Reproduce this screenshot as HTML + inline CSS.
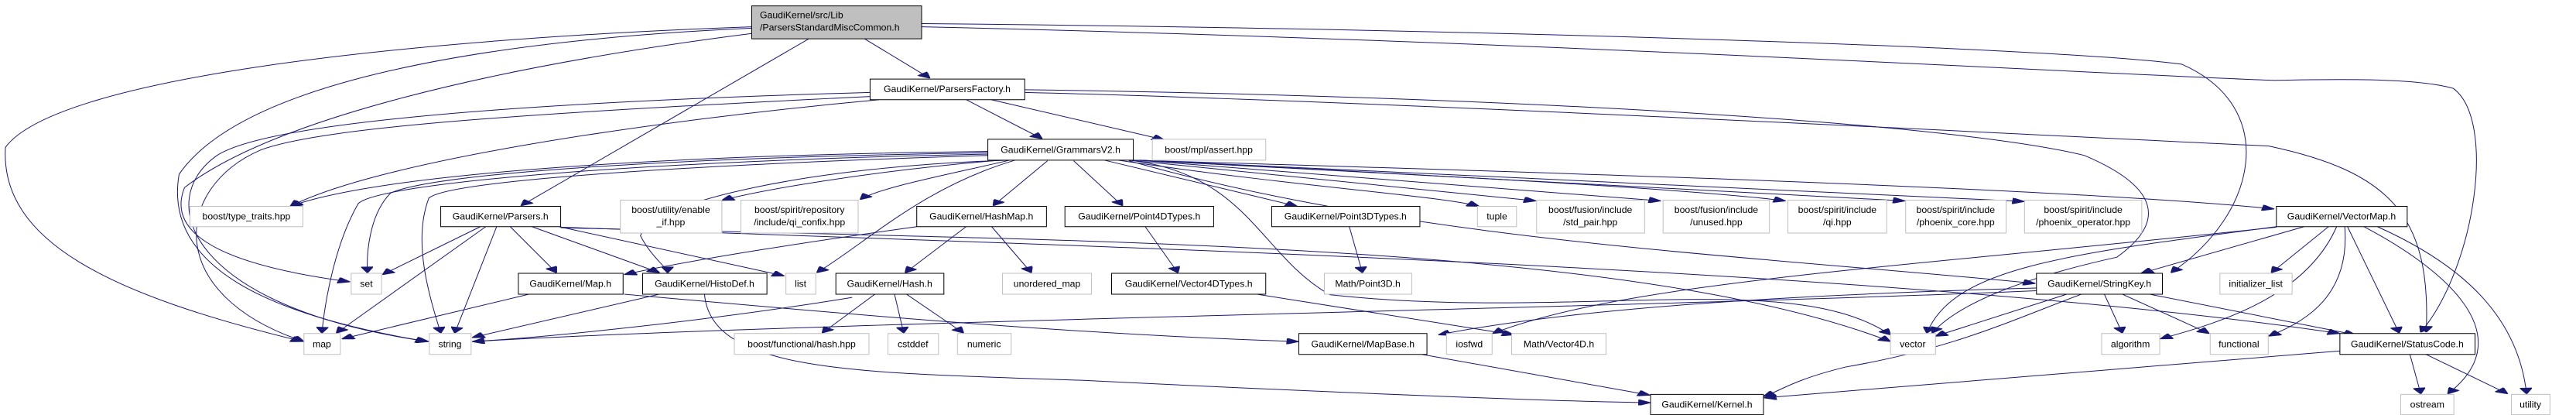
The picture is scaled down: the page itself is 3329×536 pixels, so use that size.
<!DOCTYPE html>
<html><head><meta charset="utf-8"><style>
html,body{margin:0;padding:0;background:#fff;}
svg{display:block;}
text{font-family:"Liberation Sans",Helvetica,Arial,sans-serif;font-size:17.5px;fill:#000;transform-box:fill-box;transform-origin:center;transform:scaleY(2.03);}
rect{vector-effect:non-scaling-stroke;stroke-width:1;}
rect.b{fill:#fff;stroke:#000;}
rect.g{fill:#fff;stroke:#bfbfbf;}
path{fill:none;stroke:#191970;stroke-width:1;vector-effect:non-scaling-stroke;marker-end:url(#a);}
</style></head><body>
<svg width="3329" height="536" viewBox="0 0 4746 1549" preserveAspectRatio="none" xmlns="http://www.w3.org/2000/svg">
<defs><marker id="a" viewBox="0 0 10 10" refX="10" refY="5" markerWidth="26" markerHeight="22" markerUnits="userSpaceOnUse" orient="auto"><path d="M0,0 L10,5 L0,10 z" style="fill:#191970;stroke:#191970;marker-end:none"/></marker></defs>
<rect width="4746" height="1549" fill="#fff"/>
<g>
<!-- root edges -->
<path d="M1385,100 C700,150 100,300 10,550 C0,900 200,1100 558,1275"/>
<path d="M1385,105 C900,150 450,300 330,650 C300,1000 500,1180 788,1275"/>
<path d="M1385,125 C900,250 500,450 340,700 C300,900 450,1000 645,1052"/>
<path d="M1490,145 L960,768"/>
<path d="M1593,145 L1713,292"/>
<path d="M1698,88 C2800,110 3800,180 4020,240 C4200,400 4160,800 4000,1018"/>
<path d="M1698,100 C2800,150 3900,280 4190,300 C4300,295 4450,290 4520,330 C4600,450 4560,1000 4460,1240"/>
<!-- ParsersFactory -->
<path d="M1780,372 L1920,518"/>
<path d="M1826,372 L2145,522"/>
<path d="M1620,372 C1200,450 700,600 535,770"/>
<path d="M1603,345 C1000,380 500,450 400,580 C280,750 350,1150 790,1275"/>
<path d="M1603,360 C1000,420 600,470 480,560 C320,700 300,1100 560,1275"/>
<path d="M1888,345 C2600,380 3900,520 4180,545 C4400,640 4480,800 4470,1240"/>
<path d="M1888,335 C2800,360 3600,460 3840,580 C3980,700 3990,830 3900,960 C3700,1050 3600,1150 3560,1243"/>
<!-- GrammarsV2 -->
<path d="M1820,565 C1200,580 700,650 535,770"/>
<path d="M1820,570 C1200,590 800,650 720,720 C680,800 675,950 677,1018"/>
<path d="M1820,575 C1200,600 700,680 660,760 C620,900 600,1100 593,1243"/>
<path d="M1820,580 C1200,620 820,680 790,740 C760,900 790,1100 812,1243"/>
<path d="M1830,600 C1600,640 1400,710 1330,748"/>
<path d="M1860,598 C1750,650 1620,700 1585,745"/>
<path d="M1870,598 C1700,700 1600,900 1505,1018"/>
<path d="M1930,600 L1830,768"/>
<path d="M1978,600 L2068,768"/>
<path d="M2035,598 L2390,770"/>
<path d="M2060,598 C2400,700 2650,730 2725,770"/>
<path d="M2090,600 L2830,750"/>
<path d="M2095,598 L3060,750"/>
<path d="M2100,598 C2500,640 3100,700 3290,750"/>
<path d="M2100,598 L3510,750"/>
<path d="M2100,598 L3730,752"/>
<path d="M2088,598 C2800,640 3800,700 4190,780"/>
<path d="M2080,600 C2600,900 3200,950 3750,1058"/>
<path d="M1860,598 C1500,620 1200,750 1180,880 C1200,960 1230,1000 1230,1018"/>
<path d="M2080,598 C2300,650 2320,950 2450,1100 C2900,1200 3300,1000 3483,1250"/>
<!-- Parsers.h -->
<path d="M885,846 L705,1025"/>
<path d="M895,846 L620,1243"/>
<path d="M915,846 L838,1243"/>
<path d="M940,846 L1025,1018"/>
<path d="M980,846 L1215,1018"/>
<path d="M1030,846 L1445,1030"/>
<path d="M1033,850 C2000,900 3000,900 3483,1275"/>
<path d="M1033,848 C2000,920 3500,1000 4311,1245"/>
<!-- HashMap / Hash -->
<path d="M1689,846 C1500,900 1300,960 1150,1025"/>
<path d="M1780,846 L1668,1018"/>
<path d="M1827,846 L1900,1018"/>
<path d="M1612,1098 L1515,1243"/>
<path d="M1648,1098 L1665,1243"/>
<path d="M1670,1098 L1775,1243"/>
<path d="M1570,1110 C1300,1200 1000,1260 870,1275"/>
<!-- Map / HistoDef -->
<path d="M975,1098 L630,1265"/>
<path d="M1150,1098 C1600,1180 2000,1250 2393,1275"/>
<path d="M1215,1098 L870,1260"/>
<path d="M1298,1098 C1310,1400 1600,1390 2000,1420 C2500,1470 2900,1500 3041,1503"/>
<path d="M2110,846 L2170,1018"/>
<path d="M2315,1098 L2790,1250"/>
<path d="M2486,846 L2510,1018"/>
<path d="M2620,1323 L3040,1475"/>
<!-- VectorMap -->
<path d="M4194,846 C3800,950 3600,1000 3550,1243"/>
<path d="M4245,846 L3945,1020"/>
<path d="M4290,846 L4185,1018"/>
<path d="M4305,846 C4250,1100 4100,1200 3980,1265"/>
<path d="M4320,846 C4330,1100 4250,1200 4180,1255"/>
<path d="M4325,846 L4420,1243"/>
<path d="M4355,846 C4500,1000 4650,1250 4510,1470"/>
<path d="M4380,846 C4550,1000 4640,1200 4655,1470"/>
<path d="M4194,848 C3500,1000 3000,1050 2750,1245"/>
<!-- StringKey -->
<path d="M3808,1098 L3566,1255"/>
<path d="M3877,1098 L3910,1243"/>
<path d="M3910,1098 L4070,1245"/>
<path d="M3960,1098 L4340,1250"/>
<path d="M3835,1098 C3700,1200 3600,1300 3400,1370 C3300,1420 3280,1460 3249,1480"/>
<path d="M3752,1085 C3000,1150 1500,1200 870,1275"/>
<path d="M3752,1075 C3300,1100 2900,1150 2650,1250"/>
<!-- StatusCode -->
<path d="M4311,1310 L3250,1485"/>
<path d="M4440,1323 L4460,1470"/>
<path d="M4470,1323 L4620,1470"/>
</g>
<g>
<rect x="1385" y="22" width="313" height="123" fill="#bfbfbf" stroke="#000" style="vector-effect:non-scaling-stroke"/>
<text x="1400" y="57" dominant-baseline="central">GaudiKernel/src/Lib</text>
<text x="1400" y="103" dominant-baseline="central">/ParsersStandardMiscCommon.h</text>
</g>
<g text-anchor="middle" dominant-baseline="central">
<rect class="g" x="350" y="770" width="208" height="76"/><text x="454" y="808">boost/type_traits.hpp</text>
<rect class="b" x="812" y="770" width="221" height="76"/><text x="922" y="808">GaudiKernel/Parsers.h</text>
<rect class="g" x="1143" y="747" width="187" height="123"/><text x="1236" y="783">boost/utility/enable</text><text x="1236" y="829">_if.hpp</text>
<rect class="g" x="1365" y="747" width="216" height="123"/><text x="1473" y="783">boost/spirit/repository</text><text x="1473" y="829">/include/qi_confix.hpp</text>
<rect class="g" x="647" y="1020" width="56" height="78"/><text x="675" y="1059">set</text>
<rect class="b" x="955" y="1020" width="193" height="78"/><text x="1051" y="1059">GaudiKernel/Map.h</text>
<rect class="b" x="1184" y="1020" width="229" height="78"/><text x="1298" y="1059">GaudiKernel/HistoDef.h</text>
<rect class="g" x="1448" y="1020" width="55" height="78"/><text x="1475" y="1059">list</text>
<rect class="b" x="1540" y="1020" width="199" height="78"/><text x="1639" y="1059">GaudiKernel/Hash.h</text>
<rect class="g" x="560" y="1245" width="67" height="78"/><text x="593" y="1284">map</text>
<rect class="g" x="791" y="1245" width="77" height="78"/><text x="829" y="1284">string</text>
<rect class="g" x="1353" y="1245" width="248" height="78"/><text x="1477" y="1284">boost/functional/hash.hpp</text>
<rect class="b" x="1603" y="295" width="285" height="77"/><text x="1745" y="333">GaudiKernel/ParsersFactory.h</text>
<rect class="b" x="1820" y="520" width="268" height="78"/><text x="1954" y="559">GaudiKernel/GrammarsV2.h</text>
<rect class="g" x="2123" y="520" width="209" height="78"/><text x="2227" y="559">boost/mpl/assert.hpp</text>
<rect class="b" x="1689" y="770" width="239" height="76"/><text x="1808" y="808">GaudiKernel/HashMap.h</text>
<rect class="b" x="1962" y="770" width="274" height="76"/><text x="2099" y="808">GaudiKernel/Point4DTypes.h</text>
<rect class="b" x="2343" y="770" width="273" height="76"/><text x="2479" y="808">GaudiKernel/Point3DTypes.h</text>
<rect class="g" x="2722" y="770" width="72" height="76"/><text x="2758" y="808">tuple</text>
<rect class="g" x="2831" y="747" width="199" height="123"/><text x="2930" y="783">boost/fusion/include</text><text x="2930" y="829">/std_pair.hpp</text>
<rect class="g" x="3064" y="747" width="196" height="123"/><text x="3162" y="783">boost/fusion/include</text><text x="3162" y="829">/unused.hpp</text>
<rect class="g" x="1847" y="1020" width="164" height="78"/><text x="1929" y="1059">unordered_map</text>
<rect class="b" x="2048" y="1020" width="284" height="78"/><text x="2190" y="1059">GaudiKernel/Vector4DTypes.h</text>
<rect class="g" x="2440" y="1020" width="161" height="78"/><text x="2520" y="1059">Math/Point3D.h</text>
<rect class="g" x="1636" y="1245" width="93" height="78"/><text x="1682" y="1284">cstddef</text>
<rect class="g" x="1764" y="1245" width="99" height="78"/><text x="1813" y="1284">numeric</text>
<rect class="b" x="2393" y="1245" width="236" height="78"/><text x="2511" y="1284">GaudiKernel/MapBase.h</text>
<rect class="g" x="2665" y="1245" width="84" height="78"/><text x="2707" y="1284">iosfwd</text>
<rect class="g" x="2785" y="1245" width="174" height="78"/><text x="2872" y="1284">Math/Vector4D.h</text>
<rect class="b" x="3041" y="1472" width="208" height="76"/><text x="3145" y="1510">GaudiKernel/Kernel.h</text>
<rect class="g" x="3294" y="747" width="182" height="123"/><text x="3385" y="783">boost/spirit/include</text><text x="3385" y="829">/qi.hpp</text>
<rect class="g" x="3511" y="747" width="185" height="123"/><text x="3603" y="783">boost/spirit/include</text><text x="3603" y="829">/phoenix_core.hpp</text>
<rect class="g" x="3730" y="747" width="216" height="123"/><text x="3838" y="783">boost/spirit/include</text><text x="3838" y="829">/phoenix_operator.hpp</text>
<rect class="b" x="4194" y="770" width="241" height="76"/><text x="4314" y="808">GaudiKernel/VectorMap.h</text>
<rect class="b" x="3752" y="1020" width="232" height="78"/><text x="3868" y="1059">GaudiKernel/StringKey.h</text>
<rect class="g" x="4090" y="1020" width="133" height="78"/><text x="4156" y="1059">initializer_list</text>
<rect class="g" x="3483" y="1245" width="83" height="78"/><text x="3524" y="1284">vector</text>
<rect class="g" x="3872" y="1245" width="107" height="78"/><text x="3925" y="1284">algorithm</text>
<rect class="g" x="4072" y="1245" width="107" height="78"/><text x="4125" y="1284">functional</text>
<rect class="b" x="4311" y="1245" width="249" height="78"/><text x="4435" y="1284">GaudiKernel/StatusCode.h</text>
<rect class="g" x="4423" y="1472" width="98" height="76"/><text x="4472" y="1510">ostream</text>
<rect class="g" x="4627" y="1472" width="71" height="76"/><text x="4662" y="1510">utility</text>
</g>
</svg>
</body></html>
